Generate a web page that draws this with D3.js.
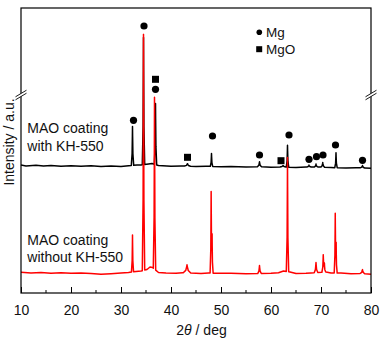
<!doctype html>
<html lang="en">

<head>
    <meta charset="utf-8">
    <title>XRD - MAO coating</title>
    <script src="https://unpkg.com/d3@7/dist/d3.min.js"></script>
</head>
<style type="text/css">
    body {
        margin: 0;
        background-color: #ffffff;
    }

    #xrd text {
        font-family: "Liberation Sans", Arial, sans-serif;
    }
</style>

<body>
    <svg id="xrd" width="384" height="340"></svg>

    <script>
        // peaks: [2theta, height, half width]
        var blackPeaks = [
            [32.3, 39, 0.08], [34.5, 127, 0.08], [36.9, 61, 0.08], [43.3, 2.5, 0.2],
            [48.1, 13, 0.08], [57.7, 5, 0.14], [62.4, 1.5, 0.2], [63.3, 22, 0.08],
            [67.6, 2, 0.15], [69.0, 3, 0.12], [70.35, 4.5, 0.12], [73.0, 15, 0.08],
            [78.3, 2.5, 0.15]
        ];
        var redPeaks = [
            [32.3, 37, 0.07], [34.5, 236, 0.08], [36.7, 172, 0.08], [43.2, 8, 0.25],
            [48.03, 80, 0.07], [48.22, 36, 0.07], [57.7, 8, 0.12], [63.3, 114, 0.08],
            [69.0, 10, 0.12], [70.45, 17, 0.09], [70.68, 8, 0.09], [72.85, 58, 0.07],
            [73.03, 27, 0.07], [78.3, 4, 0.16]
        ];

        // background under each pattern: [2theta, counts]
        var blackBase = [
            [10, 1.5], [11, 0.6], [13, 1.2], [14.5, 0.4], [16, 1], [18, 0.3], [20, 0.8],
            [22, 0.2], [24, 0.7], [26, 0.1], [28, 0.5], [30, 0], [31, 0.4], [33.2, 1.5],
            [34, 1.6], [35.5, 2.6], [36.2, 3], [37.5, 1], [40, 0.3], [42, 0.6], [45, 0],
            [47, 0.3], [50, -0.3], [52, 0], [55, -0.5], [58, -0.3], [60, -0.8], [62, -0.4],
            [65, -1], [67, -0.6], [70, -0.5], [72, -1], [75, -1.5], [77, -1.2], [80, -1.8]
        ];
        var redBase = [
            [10, 1.2], [12, 0.4], [14, 1], [16, 0.3], [18, 0.8], [20, 0.2], [22, 0.6],
            [24, 0], [26, -0.8], [28, -0.2], [30, 0.4], [31.5, 1], [33, 2], [34, 2.5],
            [35.2, 4], [35.8, 6.5], [36.3, 6], [37.5, 1], [39, 0.4], [41, 0.2], [42.3, 0.8],
            [44, 0.5], [46, 0], [47.5, 0.5], [49, 0.2], [52, 0.3], [55, -0.3], [58, 0],
            [60, 0.2], [61.5, 0.8], [62.5, 2.5], [63.8, 1.5], [65, 0], [67, 0.2], [68, 0.6],
            [71, 1.5], [72, 0.5], [74, 0.4], [76, -0.3], [78, 0], [80, -0.8]
        ];

        // vertical shift of each pattern on the stacked plot
        var blackOffset = 126.5;
        var redOffset = 19.5;

        // phase markers: [2theta, level]
        var mgMarks = [
            [32.5, 172.7], [34.6, 267], [36.9, 203.7], [48.3, 157], [57.7, 138],
            [63.6, 158], [67.6, 133.7], [69.1, 136.3], [70.4, 138], [72.9, 148], [78.3, 132.7]
        ];
        var mgoMarks = [[36.9, 213.7], [43.3, 135.7], [62.0, 132.3]];

        var xTicks = [10, 20, 30, 40, 50, 60, 70, 80];
        var xMinor = [15, 25, 35, 45, 55, 65, 75];

        var svg = d3.select("#xrd"),
            pLeft = 21, pRight = 371, pTop = 8, pBottom = 293;

        var x = d3.scaleLinear().domain([10, 80]).range([pLeft, pRight]);
        var y = d3.scaleLinear().domain([0, 285]).range([pBottom, pTop]);

        // piecewise linear profile around each peak
        var shapeAt = [-3, -1, -0.3, 0, 0.3, 1, 3];
        var shapeVal = [0, 0.3, 0.75, 1, 0.75, 0.3, 0];

        function buildPattern(base, peaks, offset) {
            var bg = d3.scaleLinear()
                .domain(base.map(function (d) { return d[0]; }))
                .range(base.map(function (d) { return d[1]; }))
                .clamp(true);
            var profiles = peaks.map(function (p) {
                return d3.scaleLinear()
                    .domain(shapeAt.map(function (k) { return p[0] + k * p[2]; }))
                    .range(shapeVal.map(function (v) { return v * p[1]; }))
                    .clamp(true);
            });
            var knots = base.map(function (d) { return d[0]; });
            peaks.forEach(function (p) {
                shapeAt.forEach(function (k) { knots.push(p[0] + k * p[2]); });
            });
            knots = Array.from(new Set(knots)).sort(d3.ascending);
            return knots.map(function (t) {
                return [t, offset + bg(t) + d3.sum(profiles, function (f) { return f(t); })];
            });
        }

        var line = d3.line()
            .x(function (d) { return x(d[0]); })
            .y(function (d) { return y(d[1]); });

        svg.append("path")
            .datum(buildPattern(blackBase, blackPeaks, blackOffset))
            .attr("d", line)
            .style("fill", "none")
            .style("stroke", "#000")
            .style("stroke-width", "1.5px")
            .style("stroke-linejoin", "round");

        svg.append("path")
            .datum(buildPattern(redBase, redPeaks, redOffset))
            .attr("d", line)
            .style("fill", "none")
            .style("stroke", "#ff0000")
            .style("stroke-width", "1.5px")
            .style("stroke-linejoin", "round");

        // frame
        svg.append("rect")
            .attr("x", pLeft).attr("y", pTop)
            .attr("width", pRight - pLeft).attr("height", pBottom - pTop)
            .style("fill", "none")
            .style("stroke", "#000")
            .style("stroke-width", "1.2px");

        // bottom axis, ticks pointing inward
        var xAxis = svg.append("g")
            .attr("transform", "translate(0," + pBottom + ")")
            .call(d3.axisBottom(x).tickValues(xTicks).tickSizeInner(-6).tickSizeOuter(0).tickPadding(12));
        xAxis.select(".domain").remove();
        xAxis.selectAll("text").style("font-size", "14px").style("fill", "#111");
        xAxis.selectAll("line").style("stroke-width", "1px");

        svg.append("g")
            .selectAll("line")
            .data(xMinor)
            .enter().append("line")
            .attr("x1", function (d) { return x(d); })
            .attr("x2", function (d) { return x(d); })
            .attr("y1", pBottom)
            .attr("y2", pBottom - 3)
            .style("stroke", "#000");

        // axis break marks on both sides
        var breakY = 95;
        [pLeft, pRight].forEach(function (bx) {
            var g = svg.append("g").attr("transform", "translate(" + bx + "," + breakY + ")");
            g.append("polygon")
                .attr("points", "-5,1.5 5,-4.5 5,-1.5 -5,4.5")
                .style("fill", "#fff");
            g.append("line").attr("x1", -5.5).attr("y1", 1.8).attr("x2", 5.5).attr("y2", -4.8)
                .style("stroke", "#000").style("stroke-width", "0.9px");
            g.append("line").attr("x1", -5.5).attr("y1", 4.8).attr("x2", 5.5).attr("y2", -1.8)
                .style("stroke", "#000").style("stroke-width", "0.9px");
        });

        // phase markers
        svg.append("g")
            .selectAll("circle")
            .data(mgMarks)
            .enter().append("circle")
            .attr("cx", function (d) { return x(d[0]); })
            .attr("cy", function (d) { return y(d[1]); })
            .attr("r", 3.6)
            .style("fill", "#000");

        svg.append("g")
            .selectAll("rect")
            .data(mgoMarks)
            .enter().append("rect")
            .attr("x", function (d) { return x(d[0]) - 3.5; })
            .attr("y", function (d) { return y(d[1]) - 3.5; })
            .attr("width", 7)
            .attr("height", 7)
            .style("fill", "#000");

        // legend
        svg.append("circle").attr("cx", 259.3).attr("cy", 32.3).attr("r", 2.8).style("fill", "#000");
        svg.append("rect").attr("x", 256.2).attr("y", 46.2).attr("width", 6).attr("height", 6).style("fill", "#000");
        svg.append("text").attr("x", 266).attr("y", 37).text("Mg")
            .style("font-size", "13.5px").style("fill", "#111");
        svg.append("text").attr("x", 266).attr("y", 54).text("MgO")
            .style("font-size", "13.5px").style("fill", "#111");

        // sample labels
        var labels = [
            ["MAO coating", 133.3], ["with KH-550", 151.3],
            ["MAO coating", 244.5], ["without KH-550", 262]
        ];
        svg.append("g")
            .selectAll("text")
            .data(labels)
            .enter().append("text")
            .attr("x", 27.3)
            .attr("y", function (d) { return d[1]; })
            .text(function (d) { return d[0]; })
            .style("font-size", "14px")
            .style("fill", "#111");

        // axis titles
        var xTitle = svg.append("text")
            .attr("x", 201.5)
            .attr("y", 335)
            .attr("text-anchor", "middle")
            .style("font-size", "14px")
            .style("fill", "#111");
        xTitle.append("tspan").text("2");
        xTitle.append("tspan").style("font-style", "italic").text("\u03b8");
        xTitle.append("tspan").text(" / deg");

        svg.append("text")
            .attr("transform", "translate(13.5,142) rotate(-90)")
            .attr("text-anchor", "middle")
            .style("font-size", "14px")
            .style("fill", "#111")
            .text("Intensity / a.u.");
    </script>
</body>

</html>
